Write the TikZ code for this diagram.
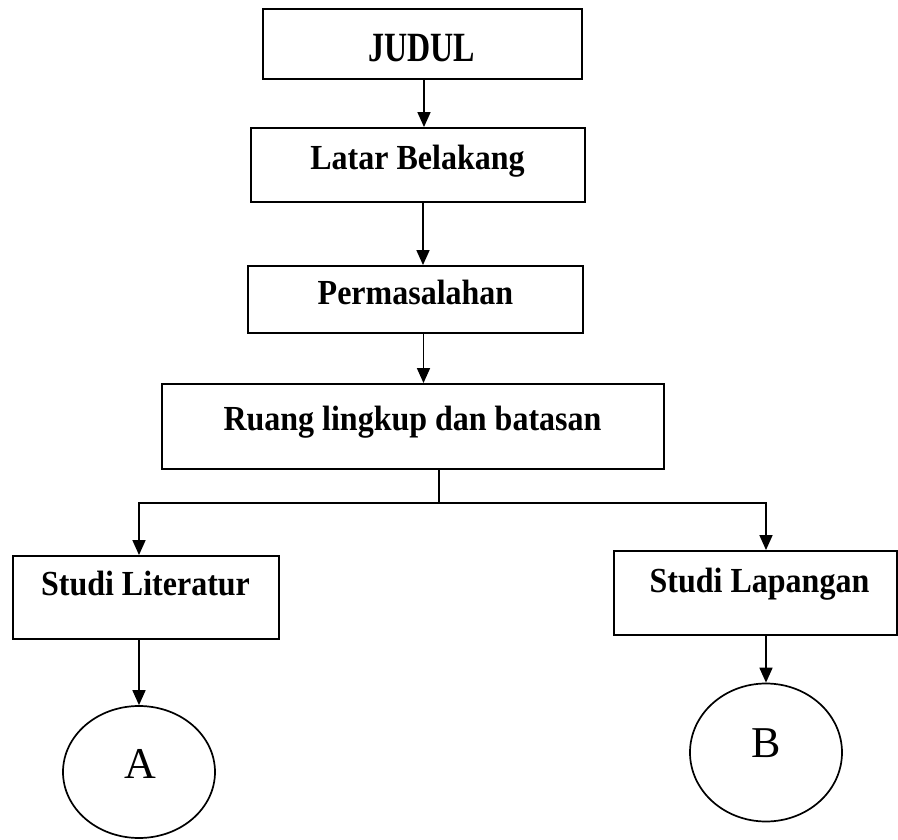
\documentclass[tikz,border=0pt]{standalone}
\usepackage{fontspec}
\setmainfont{Liberation Serif}
\usetikzlibrary{arrows.meta,shapes.geometric}

% taller bold lettering for the box captions
\newcommand\tallcaption[2][1.1]{\scalebox{1}[#1]{#2}}

\tikzset{
  stepbox/.style={draw, line width=1.9pt, rectangle, inner sep=0pt},
  endcircle/.style={draw, line width=1.7pt, ellipse, inner sep=0pt},
  boxtext/.style={anchor=base, inner sep=0pt, font=\fontsize{32}{38}\selectfont\bfseries},
  circletext/.style={anchor=base, inner sep=0pt, font=\fontsize{44}{50}\selectfont},
  flow/.style={line width=1.7pt, -{Triangle[length=15pt,width=13pt]}},
  link/.style={line width=1.7pt}
}

\begin{document}
\begin{tikzpicture}[x=1pt,y=-1pt]
  \useasboundingbox (0,0) rectangle (898,840);

  % boxes
  \node[stepbox, minimum width=319pt, minimum height=70pt] (judul) at (422.5,44) {};
  \node[stepbox, minimum width=334pt, minimum height=74pt] (latar) at (418,165) {};
  \node[stepbox, minimum width=335pt, minimum height=67pt] (masalah) at (415.5,299.5) {};
  \node[stepbox, minimum width=502pt, minimum height=85pt] (ruang) at (413,426.5) {};
  \node[stepbox, minimum width=266pt, minimum height=83pt] (literatur) at (146,597.5) {};
  \node[stepbox, minimum width=283pt, minimum height=84pt] (lapangan) at (755.5,593) {};

  % connectors to the next sheet
  \node[endcircle, minimum width=152pt, minimum height=132pt] (A) at (139,772) {};
  \node[endcircle, minimum width=152pt, minimum height=138pt] (B) at (766,752.5) {};

  % labels
  \node[boxtext] (tjudul) at (421.5,62) {\tallcaption[1.3]{JUDUL}};
  \node[boxtext] (tlatar) at (417.5,170) {\tallcaption{Latar Belakang}};
  \node[boxtext] (tmasalah) at (415.5,305) {\tallcaption{Permasalahan}};
  \node[boxtext] (truang) at (412.5,430) {\tallcaption{Ruang lingkup dan batasan}};
  \node[boxtext] (tliteratur) at (145.5,595) {\tallcaption{Studi Literatur}};
  \node[boxtext] (tlapangan) at (759.5,592) {\tallcaption{Studi Lapangan}};
  \node[circletext] (tA) at (140,778) {A};
  \node[circletext] (tB) at (766,757) {B};

  % main flow
  \draw[flow] ([xshift=1.5pt]judul.south) -- ([xshift=1.5pt]judul.south |- latar.north);
  \draw[flow] ([xshift=5pt]latar.south) -- ([xshift=5pt]latar.south |- masalah.north);
  \draw[flow] ([xshift=8pt]masalah.south) -- ([xshift=8pt]masalah.south |- ruang.north);

  % branching
  \coordinate (split) at (439,503);
  \draw[link] (ruang.south -| split) -- (split);
  \draw[flow] (split) -| (literatur.north -| A.north);
  \draw[flow] (split) -| (lapangan.north -| B.north);

  \draw[flow] (A.north |- literatur.south) -- (A.north);
  \draw[flow] (B.north |- lapangan.south) -- (B.north);
\end{tikzpicture}
\end{document}
